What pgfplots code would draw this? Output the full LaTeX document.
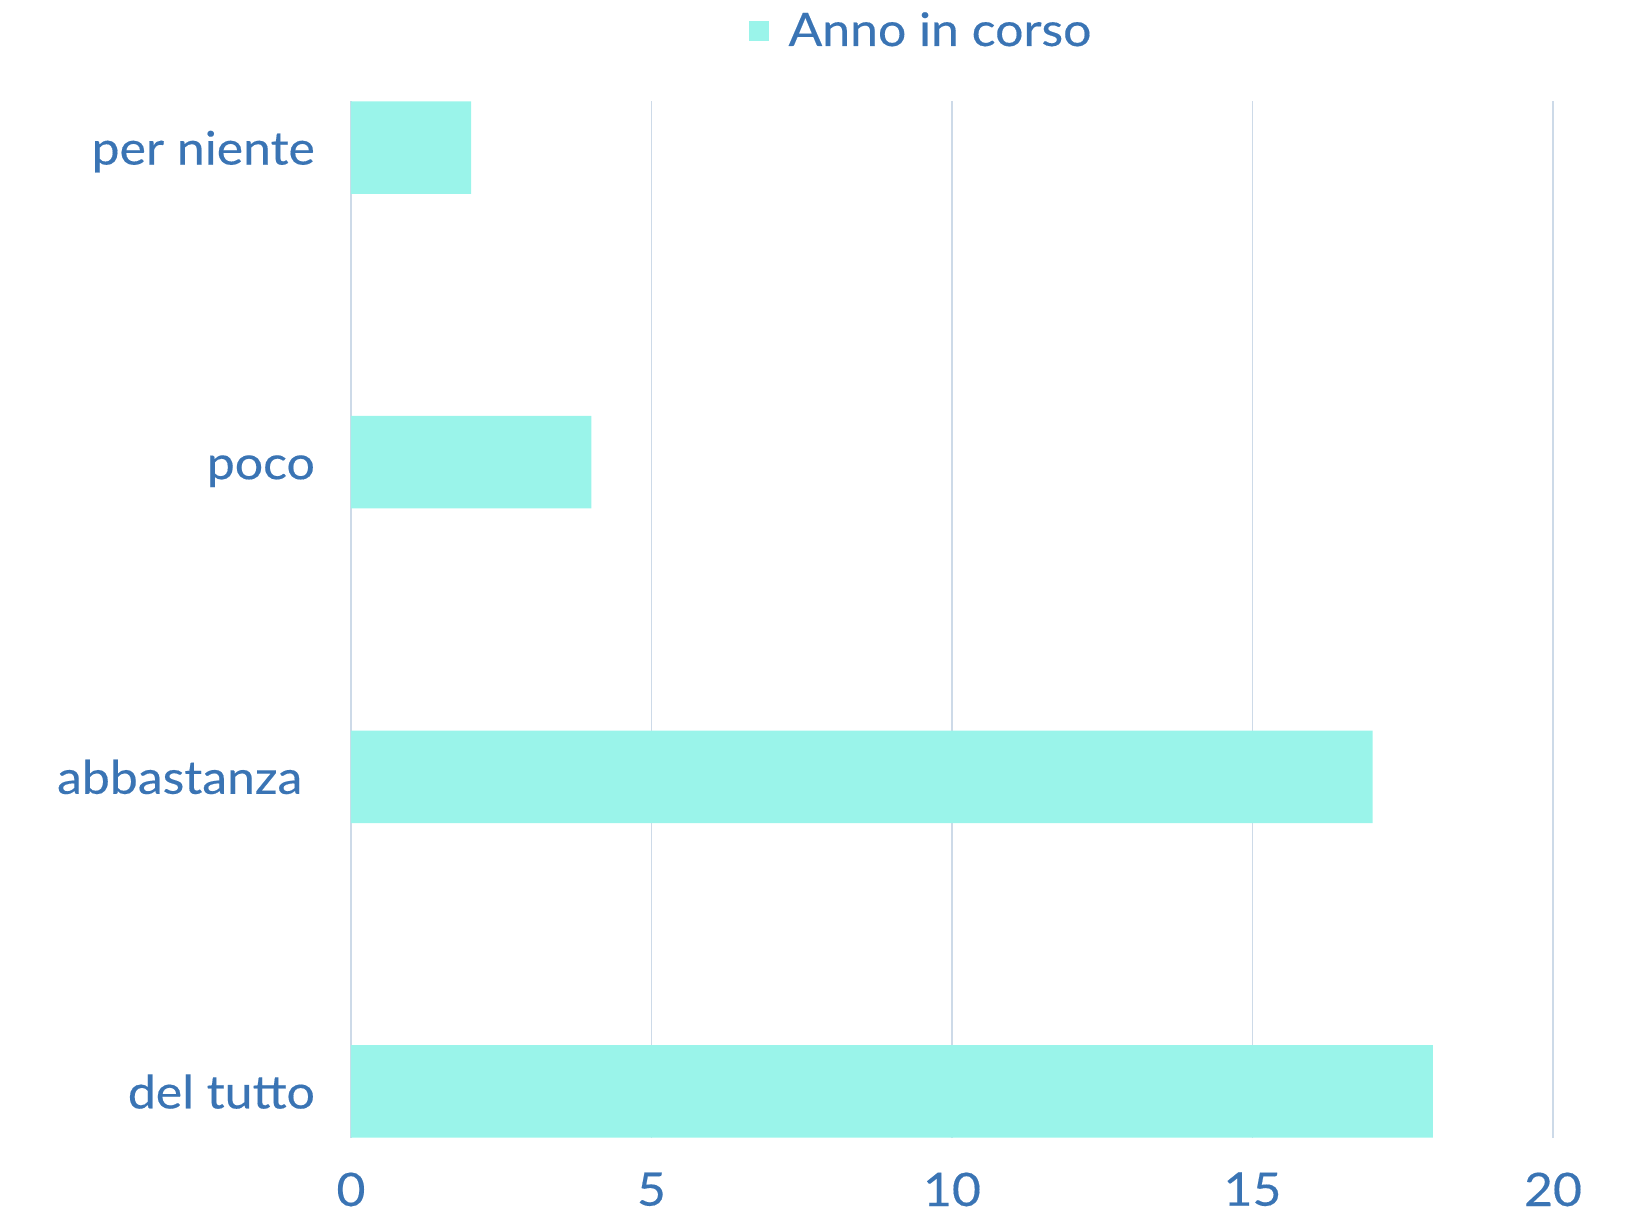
\documentclass[border=0pt]{standalone}
\usepackage{fontspec}
\setmainfont{Lato}[FakeStretch=1.08, FakeBold=0.3]
\usepackage{pgfplots}
\pgfplotsset{compat=1.18}
\definecolor{barc}{RGB}{154,244,234}
\definecolor{txtc}{RGB}{58,116,180}
\definecolor{gridc}{RGB}{205,218,232}
\begin{document}
\begin{tikzpicture}
\begin{axis}[
  name=ax,
  scale only axis,
  width=480.8pt, height=414.8pt,
  xbar, bar width=0.294,
  xmin=0, xmax=20,
  ymin=-0.148, ymax=3.148,
  xtick={0,5,10,15,20},
  ytick={0,1,2,3},
  yticklabels={del tutto, abbastanza\hspace*{5pt}, poco, per niente},
  /pgf/number format/assume math mode=true,
  every tick label/.append style={font=\fontsize{18.5}{22}\selectfont, text=txtc, inner sep=0pt},
  xticklabel style={anchor=north, yshift=-13.6pt},
  yticklabel style={anchor=base east, xshift=-10pt, yshift=-6.8pt},
  xmajorgrids, ymajorgrids=false,
  major grid style={draw=gridc, line width=0.6pt},
  axis line style={draw=none},
  tick style={draw=none},
  legend style={at={(rel axis cs:0.3303,1.0675)}, anchor=west, draw=none, fill=none,
    inner sep=0pt, font=\fontsize{18.5}{22}\selectfont, text=txtc,
    nodes={inner sep=0pt}, column sep=8pt},
  legend image code/.code={\fill[barc] (0pt,-4pt) rectangle (8pt,4pt);},
  clip=false,
]
\addplot[fill=barc, draw=none] coordinates {(18,0) (17,1) (4,2) (2,3)};
\addlegendentry{Anno in corso}
\end{axis}
\pgfresetboundingbox
\path (ax.south west) ++(-140.4pt,-32pt) rectangle ++(653.2pt,487.2pt);
\end{tikzpicture}
\end{document}
